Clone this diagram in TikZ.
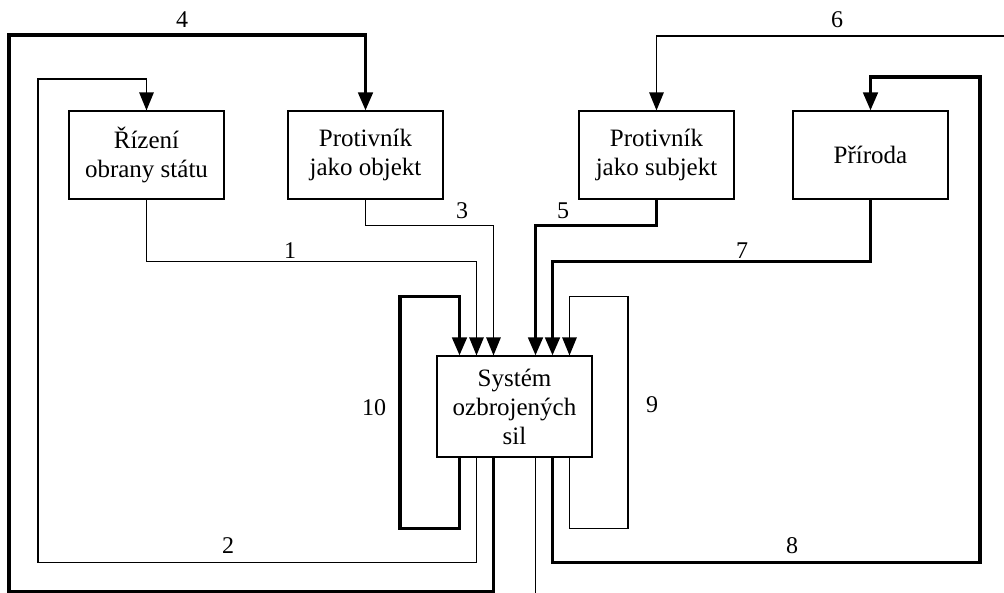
\documentclass[tikz,border=0pt]{standalone}
\usepackage{fontspec}
\setmainfont{Liberation Serif}
\usetikzlibrary{arrows.meta,positioning}
\tikzset{
  blk/.style={draw, line width=1.2pt, minimum width=155pt, minimum height=88pt,
              inner sep=0pt, align=center, font=\fontsize{25}{29}\selectfont},
  lbl/.style={inner sep=0pt, font=\fontsize{24}{24}\selectfont},
  ed/.style={-{Triangle[length=18pt,width=14.5pt]}, line width=1.2pt},
  edk/.style={-{Triangle[length=18pt,width=14.5pt]}, line width=3.2pt}
}

\begin{document}
\begin{tikzpicture}[x=1pt,y=-1pt]
\useasboundingbox (0,0) rectangle (1004,592);
\node[blk] (rizeni)  at (146.5,155) {Řízení\\obrany státu};
\node[blk] (objekt)  at (365.5,155) {Protivník\\jako objekt};
\node[blk] (subjekt) at (656.5,155) {Protivník\\jako subjekt};
\node[blk] (priroda) at (870.5,155) {Příroda};
\node[blk, minimum height=101pt] (system) at (514.5,406.5) {Systém\\ozbrojených\\sil};
\coordinate (in6)  at (1010,36);
\coordinate (out6) at (535.5,600);
\draw[ed]  (rizeni.south) -- ++(0,62) -| ([xshift=-38pt]system.north);
\draw[ed]  (objekt.south) -- ++(0,26) -| ([xshift=-21pt]system.north);
\draw[edk] (subjekt.south) -- ++(0,26) -| ([xshift=21pt]system.north);
\draw[edk] (priroda.south) -- ++(0,62) -| ([xshift=38pt]system.north);
\draw[edk] ([xshift=-55pt]system.south) -- ++(0,71) -- ++(-59.5,0) -- ++(0,-232) -| ([xshift=-55pt]system.north);
\draw[ed]  ([xshift=55pt]system.south) -- ++(0,71) -- ++(58.5,0) -- ++(0,-232) -| ([xshift=55pt]system.north);
\draw[ed]  ([xshift=-38pt]system.south) -- ++(0,105) -| (38,79) -| (rizeni.north);
\draw[edk] ([xshift=-21pt]system.south) -- ++(0,134) -| (9,35) -| (objekt.north);
\draw[ed, -] ([xshift=21pt]system.south) -- (out6);
\draw[ed]  (in6) -| (subjekt.north);
\draw[edk] ([xshift=38pt]system.south) -- ++(0,105) -| (980,77) -| (priroda.north);
\node[lbl] (n1)  at (290,251) {1};
\node[lbl] (n2)  at (228,546) {2};
\node[lbl] (n3)  at (462,211) {3};
\node[lbl] (n4)  at (182,20)  {4};
\node[lbl] (n5)  at (563,211) {5};
\node[lbl] (n6)  at (837,20)  {6};
\node[lbl] (n7)  at (742,251) {7};
\node[lbl] (n8)  at (792,546) {8};
\node[lbl] (n9)  at (652,405) {9};
\node[lbl] (n10) at (374,408) {10};
\end{tikzpicture}
\end{document}
